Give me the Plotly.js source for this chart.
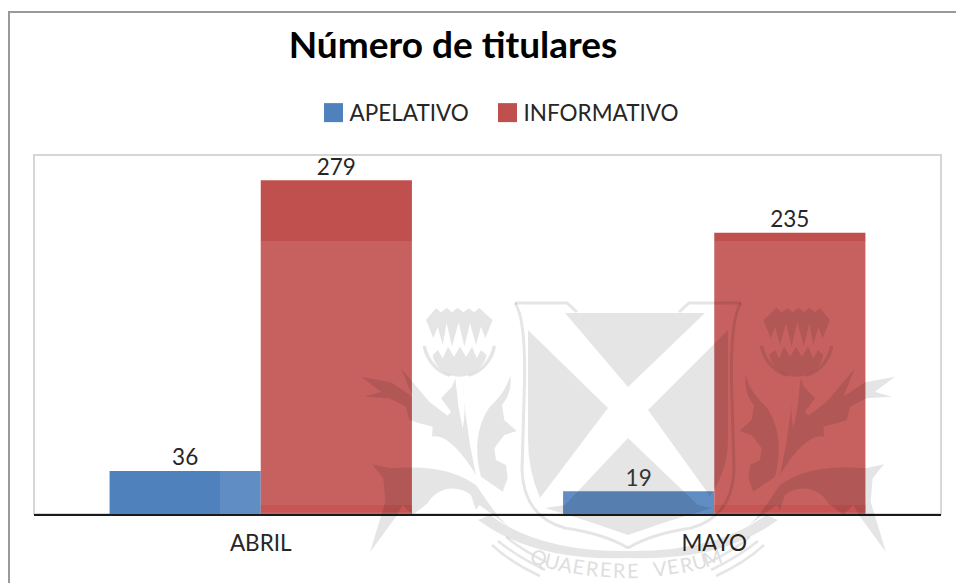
<!DOCTYPE html>
<html>
<head>
<meta charset="utf-8">
<script src="https://cdn.plot.ly/plotly-3.0.1.min.js"></script>
<style>html,body{margin:0;padding:0;background:#fff;overflow:hidden}</style>
</head>
<body>
<div id="chart" style="width:956px;height:583px"></div>
<script>
var categories = ["ABRIL", "MAYO"];
var apelativo = [36, 19];
var informativo = [279, 235];
var chartTitle = "Número de titulares";
var watermarkText = "QUAERERE VERUM";

var W = 956, H = 583, L = 34, R = 941, T = 155, B = 514;
var FONT = "Lato, 'Open Sans', sans-serif";
var MARK = "rgba(0,0,0,0.10)";

function px(x) { return (x - L) / (R - L); }
function py(y) { return (B - y) / (B - T); }
function toPath(str, fx, fy) {
  return str.replace(/(-?[\d.]+)\s+(-?[\d.]+)/g, function (m, a, b) {
    return fx(+a).toFixed(5) + "," + fy(+b).toFixed(5);
  });
}
function pixelPath(str, mirror) {
  return toPath(str, function (x) { return px(mirror ? 1256 - x : x); }, py);
}
function thistlePath(str, mirror) {
  return toPath(str, function (z) {
    var x = 680 + z / 3;
    return px(mirror ? 1256 - x : x);
  }, function (z) { return py(295 + z / 3); });
}
function fillShape(path) {
  return { type: "path", xref: "paper", yref: "paper", path: path, fillcolor: MARK,
           line: { width: 0 }, layer: "above" };
}
function strokeShape(path, w) {
  return { type: "path", xref: "paper", yref: "paper", path: path, fillcolor: "rgba(0,0,0,0)",
           line: { color: MARK, width: w }, layer: "above" };
}

var shieldFills = [
  "M565 313 L705 313 L628 387 Z",
  "M528 330 L608 408 L540 498 Q528 470 528 440 Z",
  "M728 330 L648 410 L710 496 Q728 470 728 440 Z",
  "M628 438 L698 505 L712 508 Q670 520 628 535 Q586 520 545 508 L565 505 Z"
];
var shieldStrokes = [
  "M515 303 L567 303 L577 312",
  "M515 303 Q527 320 524 400 L522 470 Q524 517 565 528 Q605 534 628 548"
];
var thistleFills = [
  "M250 75 L270 58 L290 38 L305 52 L322 40 L338 52 L355 38 L372 52 L388 38 L405 52 L420 40 L450 75 L428 130 L415 95 L400 150 L388 85 L372 155 L352 82 L335 155 L318 85 L300 150 L285 95 L272 130 Z",
  "M268 180 L285 165 L298 190 L312 155 L330 185 L348 155 L366 185 L384 155 L400 190 L414 165 L430 180 C425 215 390 245 350 245 C310 245 275 215 268 180 Z",
  "M240 152 C245 195 280 235 320 245 L325 240 C290 228 258 195 250 152 Z",
  "M460 152 C455 195 420 235 380 245 L375 240 C410 228 442 195 450 152 Z",
  "M197 240 C192 280 205 310 222 330 L215 375 L178 408 L215 420 L245 460 L240 495 L210 510 L205 550 L220 590 L170 625 L285 545 C305 470 300 400 262 340 C240 315 210 290 197 240 Z",
  "M340 250 L332 350 L318 450 L300 540 C345 465 395 415 432 425 L430 395 L470 385 L500 375 L510 335 L560 310 L635 305 L585 290 L645 245 L555 262 L490 305 L525 220 L440 320 L385 362 L375 350 L405 310 L372 275 L362 250 L352 340 L340 400 C330 350 335 300 340 250 Z",
  "M195 700 C245 660 270 610 300 570 C360 530 430 510 555 520 L612 508 L578 550 L572 620 L618 772 L540 665 L520 630 L490 660 L445 625 C420 580 360 565 315 600 L300 645 L290 630 Z"
];
var sweepFills = [
  "M478 520 Q535 562 628 558 L628 551 Q540 552 490 515 Z"
];
var bandStrokes = [
  "M492 545 Q510 562 540 576",
  "M498 541 Q518 557 545 570",
  "M506 537 Q522 550 548 563"
];

var shapes = [
  { type: "rect", xref: "paper", yref: "paper", x0: 0, x1: 1, y0: 0, y1: 1,
    line: { color: "#d6d6d6", width: 2 }, layer: "below" },
  { type: "path", xref: "paper", yref: "paper",
    path: pixelPath("M9 583 L9 12 L956 12"), fillcolor: "rgba(0,0,0,0)",
    line: { color: "#999999", width: 2 }, layer: "below" },
  { type: "rect", xref: "paper", yref: "paper", x0: px(220), x1: px(941), y0: 0, y1: py(241),
    fillcolor: "rgba(255,255,255,0.10)", line: { width: 0 }, layer: "above" },
  { type: "rect", xref: "x", yref: "paper", x0: 0, x1: 1 / 3, y0: py(512), y1: py(505),
    fillcolor: "rgba(200,70,70,0.45)", line: { width: 0 }, layer: "above" },
  { type: "rect", xref: "x", yref: "paper", x0: 1, x1: 4 / 3, y0: py(512), y1: py(505),
    fillcolor: "rgba(200,70,70,0.45)", line: { width: 0 }, layer: "above" }
];
[false, true].forEach(function (m) {
  thistleFills.forEach(function (s) { shapes.push(fillShape(thistlePath(s, m))); });
  sweepFills.forEach(function (s) { shapes.push(fillShape(pixelPath(s, m))); });
  bandStrokes.forEach(function (s) { shapes.push(strokeShape(pixelPath(s, m), 2.5)); });
  shieldStrokes.forEach(function (s) { shapes.push(strokeShape(pixelPath(s, m), 3)); });
});
shieldFills.forEach(function (s) { shapes.push(fillShape(pixelPath(s))); });

var annotations = [];
var chars = watermarkText.split("");
var cx = 626, cy = 272, rad = 298, step = 2.6;
chars.forEach(function (c, i) {
  if (c === " ") return;
  var deg = (i - (chars.length - 1) / 2) * step;
  var t = deg * Math.PI / 180;
  annotations.push({
    text: c, showarrow: false, xref: "paper", yref: "paper",
    x: px(cx + rad * Math.sin(t)), y: py(cy + rad * Math.cos(t)),
    xanchor: "center", yanchor: "middle", textangle: -deg,
    font: { family: FONT, size: 20, color: "#dedede" }
  });
});

var traces = [
  { type: "bar", name: "APELATIVO", x: categories, y: apelativo, text: apelativo.map(String),
    textposition: "outside", cliponaxis: false, marker: { color: "#4f81bd" },
    textfont: { family: FONT, size: 22.5, color: "#262626" } },
  { type: "bar", name: "INFORMATIVO", x: categories, y: informativo, text: informativo.map(String),
    textposition: "outside", cliponaxis: false, marker: { color: "#c0504d" },
    textfont: { family: FONT, size: 22.5, color: "#262626" } }
];

var layout = {
  width: W, height: H,
  paper_bgcolor: "#ffffff", plot_bgcolor: "rgba(0,0,0,0)",
  font: { family: FONT, size: 18, color: "#262626" },
  margin: { l: L, r: W - R, t: T, b: H - B, pad: 0 },
  title: { text: "<b>" + chartTitle + "</b>", x: px(453), xanchor: "center", xref: "paper",
           y: 1 - 45 / H, yanchor: "middle", font: { family: FONT, size: 37, color: "#000000" } },
  barmode: "group", bargap: 1 / 3, bargroupgap: 0,
  showlegend: true,
  legend: { orientation: "h", x: px(309.5), xanchor: "left", y: py(113), yanchor: "middle",
            bgcolor: "rgba(0,0,0,0)",
            font: { family: FONT, size: 22.5, color: "#262626" }, traceorder: "normal" },
  xaxis: { type: "category", range: [-0.5, 1.5], showline: true, linecolor: "#1a1a1a", linewidth: 2,
           ticks: "", showgrid: false, zeroline: false, automargin: false, ticklabelstandoff: 8,
           layer: "below traces",
           tickfont: { family: FONT, size: 22.5, color: "#262626" } },
  yaxis: { range: [0, 300], showticklabels: false, ticks: "", showgrid: false, zeroline: false,
           showline: false, automargin: false },
  shapes: shapes,
  annotations: annotations
};

Plotly.newPlot("chart", traces, layout, { displayModeBar: false, staticPlot: true }).then(function () {
  var items = document.querySelectorAll("#chart .legend .traces");
  document.querySelectorAll("#chart .legend .legendpoints path").forEach(function (p) {
    p.setAttribute("d", "M-5.5,9.5H13.5V-9.5H-5.5Z");
  });
  var info = document.querySelector("#chart .legend");
  if (info) {
    info.querySelectorAll("[clip-path]").forEach(function (el) { el.removeAttribute("clip-path"); });
  }
  if (items.length > 1) {
    var first = items[0].getCTM();
    var second = items[1].getCTM();
    if (first && second) {
      var shift = 174 - (second.e - first.e);
      var tr = items[1].getAttribute("transform") || "";
      items[1].setAttribute("transform", tr + " translate(" + shift + ",0)");
    }
  }
  document.querySelectorAll("#chart .bars .bartext").forEach(function (t) {
    var tr = t.getAttribute("transform") || "";
    t.setAttribute("transform", "translate(0,2.5) " + tr);
  });
});
</script>
</body>
</html>
